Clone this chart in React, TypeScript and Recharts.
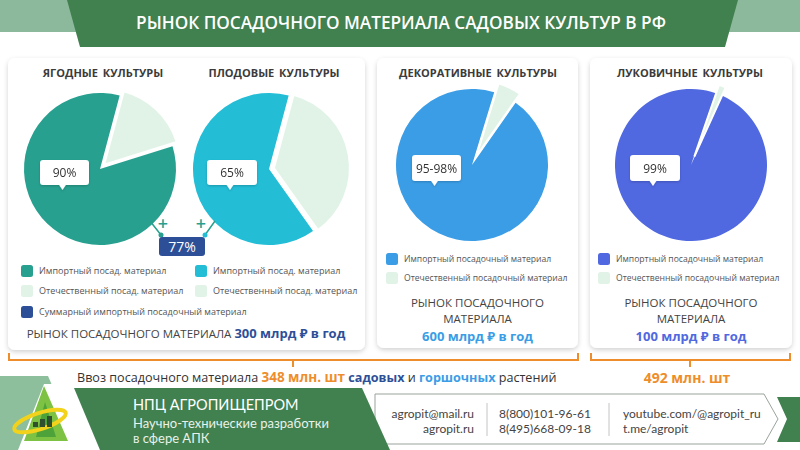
import React from 'react';
import { PieChart, Pie, Cell } from 'recharts';

// values as they are drawn (the printed labels differ from the slice sizes)
const cultures = ['ЯГОДНЫЕ КУЛЬТУРЫ', 'ПЛОДОВЫЕ КУЛЬТУРЫ', 'ДЕКОРАТИВНЫЕ КУЛЬТУРЫ', 'ЛУКОВИЧНЫЕ КУЛЬТУРЫ'];
const importShare = [84, 64, 95, 98.5];
const domesticShare = [16, 36, 5, 1.5];
const shareLabels = ['90%', '65%', '95-98%', '99%'];
const totalImportLabel = '77%';
const marketValues = ['300 млрд ₽ в год', '600 млрд ₽ в год', '100 млрд ₽ в год'];
const importVolumes = ['348 млн. шт', '492 млн. шт'];
const legendShort = ['Импортный посад. материал', 'Отечественный посад. материал'];
const legendFull = ['Импортный посадочный материал', 'Отечественный посадочный материал'];
const legendTotal = 'Суммарный импортный посадочный материал';

const LIGHT = '#e1f3e7';
const GREEN = '#41804f';
const ORANGE = '#ee8d2b';
const NAVY = '#2d4f98';
const FONT = '"Open Sans", "Noto Sans", sans-serif';
const THIN = 'Lato, "Open Sans", sans-serif';

const pies = [
  { cx: 100, cy: 169, r: 76, start: 15, shift: 6, color: '#27a08f', box: { x: 40, y: 160, w: 49, h: 25 } },
  { cx: 269, cy: 169, r: 76, start: 15, shift: 5, color: '#23bdd6', box: { x: 207, y: 160, w: 50, h: 25 } },
  { cx: 472, cy: 165, r: 76, start: 17, shift: 10, color: '#3a9de6', box: { x: 412, y: 155, w: 49, h: 26 } },
  { cx: 691, cy: 165, r: 76, start: 19, shift: 9, color: '#5068e0', box: { x: 630, y: 155, w: 50, h: 26 } },
];
const titleX = [103, 274, 478, 690];
const cards = [
  { x: 8, y: 58, w: 357, h: 292 },
  { x: 377, y: 58, w: 201, h: 290 },
  { x: 590, y: 58, w: 202, h: 290 },
];

const Callout = ({ x, y, w, h, text }: { x: number; y: number; w: number; h: number; text: string }) => {
  const px = x + w / 2 - 2;
  return (
    <g filter="url(#soft)">
      <rect x={x} y={y} width={w} height={h} rx={3} fill="#fff" />
      <polygon points={`${px - 4},${y + h - 1} ${px + 4},${y + h - 1} ${px},${y + h + 5}`} fill="#fff" />
      <text x={x + w / 2} y={y + h / 2 + 4.5} textAnchor="middle" fontSize={12} fill="#333">{text}</text>
    </g>
  );
};

const LegendRow = ({ x, y, color, text, size = 8.6 }: { x: number; y: number; color: string; text: string; size?: number }) => (
  <g>
    <rect x={x} y={y - 6} width={12} height={12} rx={2.5} fill={color} />
    <text x={x + 18} y={y + 3} fontSize={size} fill="#555">{text}</text>
  </g>
);

export default function App() {
  const pieElements = pies.flatMap((p, i) => {
    const data = [
      { name: 'Отечественный', value: domesticShare[i] },
      { name: 'Импортный', value: importShare[i] },
    ];
    const total = domesticShare[i] + importShare[i];
    const startAngle = 90 - p.start;
    const bis = ((p.start + (domesticShare[i] / total) * 180) * Math.PI) / 180;
    const dx = p.shift * Math.sin(bis);
    const dy = -p.shift * Math.cos(bis);
    return [
      <Pie key={`imp${i}`} data={data} dataKey="value" cx={p.cx} cy={p.cy} outerRadius={p.r}
        startAngle={startAngle} endAngle={startAngle - 360} isAnimationActive={false} stroke="none">
        <Cell fill="none" stroke="none" />
        <Cell fill={p.color} stroke="none" />
      </Pie>,
      <Pie key={`dom${i}`} data={data} dataKey="value" cx={p.cx + dx} cy={p.cy + dy} outerRadius={p.r}
        startAngle={startAngle} endAngle={startAngle - 360} isAnimationActive={false}>
        <Cell fill={LIGHT} stroke="#fff" strokeWidth={2} />
        <Cell fill="none" stroke="none" />
      </Pie>,
    ];
  });

  return (
    <div style={{ position: 'absolute', left: 0, top: 0, width: 800, height: 450, background: '#fff', fontFamily: FONT, overflow: 'hidden' }}>
      {/* background layer */}
      <svg width={800} height={450} style={{ position: 'absolute', left: 0, top: 0 }} fontFamily={FONT}>
        <defs>
          <filter id="shadow" x="-10%" y="-10%" width="120%" height="125%">
            <feDropShadow dx="0" dy="2" stdDeviation="2.5" floodColor="#000" floodOpacity="0.18" />
          </filter>
        </defs>
        <rect x={0} y={0} width={800} height={32} fill="#8cb99b" />
        <polygon points="67,0 738,0 725,47 80,47" fill={GREEN} />
        <text x={401} y={29} textAnchor="middle" fontSize={17.2} fontWeight={600} fill="#fff">
          РЫНОК ПОСАДОЧНОГО МАТЕРИАЛА САДОВЫХ КУЛЬТУР В РФ
        </text>
        {cards.map((c, i) => (
          <rect key={i} x={c.x} y={c.y} width={c.w} height={c.h} rx={7} fill="#fff" filter="url(#shadow)" />
        ))}
        {cultures.map((t, i) => (
          <text key={t} x={titleX[i]} y={77} textAnchor="middle" fontSize={11} fontWeight={700} fill="#3b3b3b" wordSpacing={2}>{t}</text>
        ))}

        {/* legends */}
        <LegendRow x={21} y={271} size={9} color={pies[0].color} text={legendShort[0]} />
        <LegendRow x={21} y={291} size={9} color={LIGHT} text={legendShort[1]} />
        <LegendRow x={21} y={312} size={9} color={NAVY} text={legendTotal} />
        <LegendRow x={195} y={271} size={9} color={pies[1].color} text={legendShort[0]} />
        <LegendRow x={195} y={291} size={9} color={LIGHT} text={legendShort[1]} />
        <LegendRow x={386} y={259} color={pies[2].color} text={legendFull[0]} />
        <LegendRow x={386} y={278} color={LIGHT} text={legendFull[1]} />
        <LegendRow x={598} y={259} color={pies[3].color} text={legendFull[0]} />
        <LegendRow x={598} y={278} color={LIGHT} text={legendFull[1]} />

        <text x={186} y={338} textAnchor="middle" fontSize={11.5} fill="#444">
          РЫНОК ПОСАДОЧНОГО МАТЕРИАЛА{' '}
          <tspan fontSize={13} fontWeight={700} fill={NAVY}>{marketValues[0]}</tspan>
        </text>
        {[1, 2].map((k) => (
          <g key={k}>
            <text x={cards[k].x + cards[k].w / 2} y={307} textAnchor="middle" fontSize={11.5} fill="#444">РЫНОК ПОСАДОЧНОГО</text>
            <text x={cards[k].x + cards[k].w / 2} y={323} textAnchor="middle" fontSize={11.5} fill="#444">МАТЕРИАЛА</text>
            <text x={cards[k].x + cards[k].w / 2} y={341} textAnchor="middle" fontSize={13} fontWeight={700} fill={pies[k + 1].color}>{marketValues[k]}</text>
          </g>
        ))}

        {/* braces */}
        <path d="M9,353 V360 H578 V353 M293,360 V367" fill="none" stroke={ORANGE} strokeWidth={2} />
        <path d="M591,353 V360 H790 V353 M690,360 V367" fill="none" stroke={ORANGE} strokeWidth={2} />
        <text x={77} y={382} fontSize={12.6} fill="#333">
          Ввоз посадочного материала{' '}
          <tspan fontWeight={700} fontSize={13.5} fill={ORANGE}>{importVolumes[0]}</tspan>{' '}
          <tspan fontWeight={700} fill={NAVY}>садовых</tspan> и{' '}
          <tspan fontWeight={700} fill="#3a9de6">горшочных</tspan> растений
        </text>
        <text x={687} y={383} textAnchor="middle" fontWeight={700} fontSize={14} fill={ORANGE}>{importVolumes[1]}</text>

        {/* footer */}
        <polygon points="0,376 48,376 80,450 0,450" fill="#8dbf9c" />
        <polygon points="18,450 44,384 58,384 88,450" fill="#fff" />
        <polygon points="375,394 764,394 778,419 764,444 375,444" fill="#fff" stroke="#9aa39c" strokeWidth={1} />
        <polygon points="777,397 800,397 800,442 777,442 787,419" fill={GREEN} />
        <polygon points="74,388 362,388 390,450 100,450" fill={GREEN} />
        <polygon points="44,386 24,441 68,441" fill="#7dc242" />
        <polygon points="45,402 36,437 56,437" fill="#4ea23a" />
        <ellipse cx={40} cy={421} rx={27} ry={8} fill="none" stroke="#f2d21b" strokeWidth={4} transform="rotate(-18 40 421)" />
        <rect x={33} y={422} width={5} height={5} fill="#2f4f2f" />
        <rect x={40} y={419} width={5} height={8} fill="#2f4f2f" />
        <rect x={47} y={416} width={5} height={11} fill="#2f4f2f" />
        <text x={133} y={410} fontFamily={THIN} fontSize={14.5} fill="#fff">НПЦ АГРОПИЩЕПРОМ</text>
        <text x={133} y={428} fontFamily={THIN} fontSize={13} fill="#e8f2ea">Научно-технические разработки</text>
        <text x={133} y={443} fontFamily={THIN} fontSize={13} fill="#e8f2ea">в сфере АПК</text>
        <line x1={487} y1={403} x2={487} y2={436} stroke="#c4c4c4" />
        <line x1={609} y1={403} x2={609} y2={436} stroke="#c4c4c4" />
        <g fontFamily={THIN} fontSize={12} fill="#444">
          <text x={474} y={418} textAnchor="end">agropit@mail.ru</text>
          <text x={474} y={433} textAnchor="end">agropit.ru</text>
          <text x={499} y={418}>8(800)101-96-61</text>
          <text x={499} y={433}>8(495)668-09-18</text>
          <text x={623} y={418}>youtube.com/@agropit_ru</text>
          <text x={623} y={433}>t.me/agropit</text>
        </g>
      </svg>

      {/* charts */}
      <div style={{ position: 'absolute', left: 0, top: 0 }}>
        <PieChart width={800} height={450} margin={{ top: 0, right: 0, bottom: 0, left: 0 }}>
          {pieElements}
        </PieChart>
      </div>

      {/* callouts over the pies */}
      <svg width={800} height={450} style={{ position: 'absolute', left: 0, top: 0, pointerEvents: 'none' }} fontFamily={FONT}>
        <defs>
          <filter id="soft" x="-20%" y="-20%" width="140%" height="150%">
            <feDropShadow dx="0" dy="1" stdDeviation="1" floodColor="#000" floodOpacity="0.2" />
          </filter>
        </defs>
        {pies.map((p, i) => (
          <Callout key={i} {...p.box} text={shareLabels[i]} />
        ))}
        <path d="M150,221 L161,235 M215,221 L205,235" stroke={pies[0].color} strokeWidth={1.5} fill="none" />
        <circle cx={161} cy={235} r={2.5} fill={pies[0].color} />
        <circle cx={205} cy={235} r={2.5} fill={pies[1].color} />
        <text x={163} y={230} textAnchor="middle" fontSize={18} fontWeight={600} fill={pies[0].color}>+</text>
        <text x={201} y={230} textAnchor="middle" fontSize={18} fontWeight={600} fill={pies[0].color}>+</text>
        <rect x={159} y={237} width={46} height={19} rx={3} fill={NAVY} />
        <text x={182} y={251.5} textAnchor="middle" fontSize={14} fill="#fff">{totalImportLabel}</text>
      </svg>
    </div>
  );
}
